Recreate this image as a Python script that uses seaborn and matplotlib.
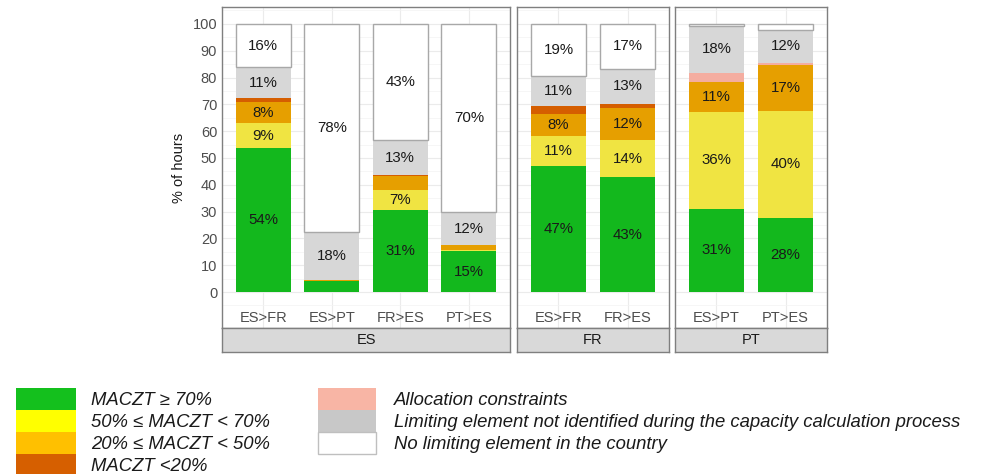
import numpy as np
import pandas as pd
import seaborn as sns
import matplotlib.pyplot as plt
from matplotlib.patches import Patch

# one entry per bar
facet = ["ES", "ES", "ES", "ES", "FR", "FR", "PT", "PT"]
link = ["ES>FR", "ES>PT", "FR>ES", "PT>ES", "ES>FR", "FR>ES", "ES>PT", "PT>ES"]

# % of hours, stacked from bottom to top
maczt_70 = [53.6, 4.2, 30.6, 15.2, 46.9, 42.8, 31.0, 27.6]
maczt_50_70 = [9.4, 0.0, 7.3, 0.3, 11.4, 14.0, 36.2, 40.1]
maczt_20_50 = [7.9, 0.4, 5.2, 2.0, 8.1, 11.9, 11.2, 16.8]
maczt_lt20 = [1.5, 0.0, 0.4, 0.0, 2.9, 1.4, 0.0, 0.0]
allocation = [0.0, 0.0, 0.0, 0.0, 0.0, 0.0, 3.3, 0.9]
not_identified = [11.4, 17.8, 13.2, 12.3, 11.4, 13.2, 17.7, 12.4]
no_limiting = [16.2, 77.6, 43.3, 70.2, 19.3, 16.7, 0.6, 2.2]

countries = ["ES", "FR", "PT"]
value_cols = ["maczt_70", "maczt_50_70", "maczt_20_50", "maczt_lt20",
              "allocation", "not_identified", "no_limiting"]
layer_labels = ["MACZT ≥ 70%", "50% ≤ MACZT < 70%", "20% ≤ MACZT < 50%", "MACZT <20%",
                "Allocation constraints",
                "Limiting element not identified during the capacity calculation process",
                "No limiting element in the country"]
bar_colors = ["#13B81D", "#F0E442", "#E69F00", "#D55E00", "#F4ADA0", "#D7D7D7", "#FFFFFF"]
legend_colors = ["#14C01D", "#FFFF00", "#FFC000", "#D65F00", "#F8B5A5", "#C8C8C8", "#FFFFFF"]

df = pd.DataFrame({"facet": facet, "link": link, "maczt_70": maczt_70,
                   "maczt_50_70": maczt_50_70, "maczt_20_50": maczt_20_50,
                   "maczt_lt20": maczt_lt20, "allocation": allocation,
                   "not_identified": not_identified, "no_limiting": no_limiting})

sns.set_style("white")
plt.rcParams['font.family'] = ['Liberation Sans', 'DejaVu Sans']

W, H = 983, 474
fig = plt.figure(figsize=(W / 100, H / 100), dpi=100)

# panel extents in pixels (left, right)
panel_px = {"ES": (222, 510), "FR": (517, 669), "PT": (675, 827)}
top_px, bottom_px, strip_px = 7, 328, 352
border = "#7F7F7F"

for country in countries:
    sub = df[df.facet == country].reset_index(drop=True)
    order = list(sub.link)
    n = len(order)
    x0, x1 = panel_px[country]
    ax = fig.add_axes([x0 / W, 1 - bottom_px / H, (x1 - x0) / W, (bottom_px - top_px) / H])

    bottom = np.zeros(n)
    for col, color in zip(value_cols, bar_colors):
        vals = sub[col].to_numpy()
        is_white = color == "#FFFFFF"
        sns.barplot(data=sub, x="link", y=col, order=order, color=color, width=0.8,
                    bottom=bottom.copy(), saturation=1, errorbar=None,
                    edgecolor="#A8A8A8" if is_white else "none",
                    linewidth=1 if is_white else 0, ax=ax)
        for i, (v, b) in enumerate(zip(vals, bottom)):
            if v >= 6:
                ax.text(i, b + v / 2, f"{v:.0f}%", ha="center", va="center",
                        fontsize=10.8, color="#1A1A1A")
        bottom += vals

    ax.set_xlim(-0.6, n - 0.4)
    ax.set_ylim(-13.4, 106.3)
    ax.set_xlabel("")
    ax.set_ylabel("")
    ax.set_xticks(range(n))
    ax.set_xticklabels([])
    ax.tick_params(axis="x", length=0)
    for i, name in enumerate(order):
        ax.text(i, -9.6, name, ha="center", va="center", fontsize=10.5, color="#4D4D4D")

    ax.set_yticks(np.arange(0, 101, 10))
    ax.set_yticks(np.arange(-10, 106, 10) + 5, minor=True)
    ax.grid(True, which="major", color="#EBEBEB", linewidth=0.8)
    ax.grid(True, which="minor", axis="y", color="#F3F3F3", linewidth=0.5)
    ax.set_axisbelow(True)
    ax.tick_params(axis="y", which="minor", length=0)
    if country == "ES":
        ax.tick_params(axis="y", which="major", length=2.5, width=0.8, color="#333333",
                       pad=1, labelsize=10.5, labelcolor="#4D4D4D")
        ax.set_ylabel("% of hours", fontsize=10.5, color="#1A1A1A", labelpad=5)
    else:
        ax.tick_params(axis="y", which="major", length=0, labelleft=False)
    for sp in ax.spines.values():
        sp.set_color(border)
        sp.set_linewidth(1)

    # facet strip below the panel
    sax = fig.add_axes([x0 / W, 1 - strip_px / H, (x1 - x0) / W, (strip_px - bottom_px) / H])
    sax.set_facecolor("#D9D9D9")
    sax.set_xlim(-0.6, n - 0.4)
    sax.set_ylim(0, 1)
    sax.set_xticks(range(n))
    sax.set_xticklabels([])
    sax.set_yticks([])
    sax.tick_params(axis="x", length=3, width=0.8, color="#333333")
    sax.text(0.5, 0.5, country, transform=sax.transAxes, ha="center", va="center",
             fontsize=10.5, color="#1A1A1A")
    for sp in sax.spines.values():
        sp.set_color(border)
        sp.set_linewidth(1)

legend_font = {"family": ["Liberation Sans", "DejaVu Sans"], "style": "italic", "size": 13.3}
handles = [Patch(facecolor=c, edgecolor="#BFBFBF" if c == "#FFFFFF" else "none",
                 linewidth=1 if c == "#FFFFFF" else 0) for c in legend_colors]

leg1 = fig.legend(handles[:4], layer_labels[:4], loc="upper left",
                  bbox_to_anchor=(16 / W, 1 - 388 / H), frameon=False, prop=legend_font,
                  borderpad=0, borderaxespad=0, labelspacing=0, handlelength=3.25,
                  handleheight=1.455, handletextpad=0.81)
leg2 = fig.legend(handles[4:], layer_labels[4:], loc="upper left",
                  bbox_to_anchor=(318 / W, 1 - 388 / H), frameon=False, prop=legend_font,
                  borderpad=0, borderaxespad=0, labelspacing=0, handlelength=3.14,
                  handleheight=1.455, handletextpad=0.97)
for leg in (leg1, leg2):
    for t in leg.get_texts():
        t.set_color("#1A1A1A")

fig.savefig("out.png", dpi=100)
